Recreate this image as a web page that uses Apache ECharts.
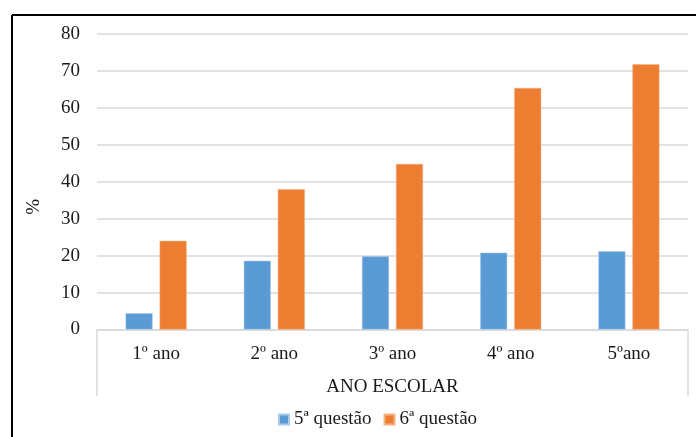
<!DOCTYPE html>
<html>
<head>
<meta charset="utf-8">
<script src="https://cdn.jsdelivr.net/npm/echarts@6/dist/echarts.min.js"></script>
<style>
html,body{margin:0;padding:0;background:#fff;}
#c{width:696px;height:437px;}
</style>
</head>
<body>
<div id="c"></div>
<script>
var categories = ['1º ano', '2º ano', '3º ano', '4º ano', '5ºano'];
var serie5 = [4.4, 18.6, 19.8, 20.8, 21.2];
var serie6 = [24.0, 38.0, 44.8, 65.4, 71.8];
var seriesNames = ['5ª questão', '6ª questão'];
var yTicks = { min: 0, max: 80, interval: 10 };

var FONT = '"Liberation Serif", "Times New Roman", serif';
var TXT = '#1a1a1a';
var chart = echarts.init(document.getElementById('c'));
var gridL = 97, gridR = 8, gridT = 34, gridB = 107.5;
var W = 696, H = 437;
var axisY = H - gridB;
chart.setOption({
  animation: false,
  textStyle: { fontFamily: FONT },
  grid: { left: gridL, right: gridR, top: gridT, bottom: gridB, containLabel: false },
  legend: {
    data: seriesNames,
    left: 273, top: 405,
    itemWidth: 10, itemHeight: 10, itemGap: 12, itemTextGap: 5,
    icon: 'rect',
    textStyle: { fontFamily: FONT, fontSize: 19, color: TXT }
  },
  xAxis: {
    type: 'category',
    data: categories,
    name: 'ANO ESCOLAR',
    nameLocation: 'middle',
    nameGap: 48,
    nameTextStyle: { fontFamily: FONT, fontSize: 19, color: TXT },
    axisLine: { lineStyle: { color: '#d9d9d9', width: 1.5 } },
    axisTick: { show: false },
    axisLabel: { fontFamily: FONT, fontSize: 19, color: TXT, margin: 15 }
  },
  yAxis: {
    type: 'value',
    min: yTicks.min, max: yTicks.max, interval: yTicks.interval,
    name: '%',
    nameLocation: 'middle',
    nameGap: 53,
    nameRotate: 90,
    nameTextStyle: { fontFamily: FONT, fontSize: 19, color: TXT, padding: [0, 50, 0, 0] },
    axisLine: { show: false },
    axisTick: { show: false },
    splitLine: { lineStyle: { color: '#d9d9d9', width: 1.5 } },
    axisLabel: { fontFamily: FONT, fontSize: 19, color: TXT, margin: 17 }
  },
  series: [
    { name: seriesNames[0], type: 'bar', data: serie5, barWidth: 27, barGap: '26%',
      itemStyle: { color: '#5B9BD5', borderColor: '#a9c9ea', borderWidth: 0.5 } },
    { name: seriesNames[1], type: 'bar', data: serie6, barWidth: 27,
      itemStyle: { color: '#ED7D31', borderColor: '#f5b183', borderWidth: 0.5 } }
  ],
  graphic: [
    { type: 'line', shape: { x1: gridL, y1: axisY, x2: gridL, y2: 396 }, style: { stroke: '#d9d9d9', lineWidth: 1.5 } },
    { type: 'line', shape: { x1: W - gridR, y1: axisY, x2: W - gridR, y2: 396 }, style: { stroke: '#d9d9d9', lineWidth: 1.5 } },
    { type: 'line', shape: { x1: 12, y1: 15, x2: 696, y2: 15 }, style: { stroke: '#000', lineWidth: 2 } },
    { type: 'line', shape: { x1: 12, y1: 15, x2: 12, y2: 437 }, style: { stroke: '#000', lineWidth: 2 } }
  ]
});
</script>
</body>
</html>
